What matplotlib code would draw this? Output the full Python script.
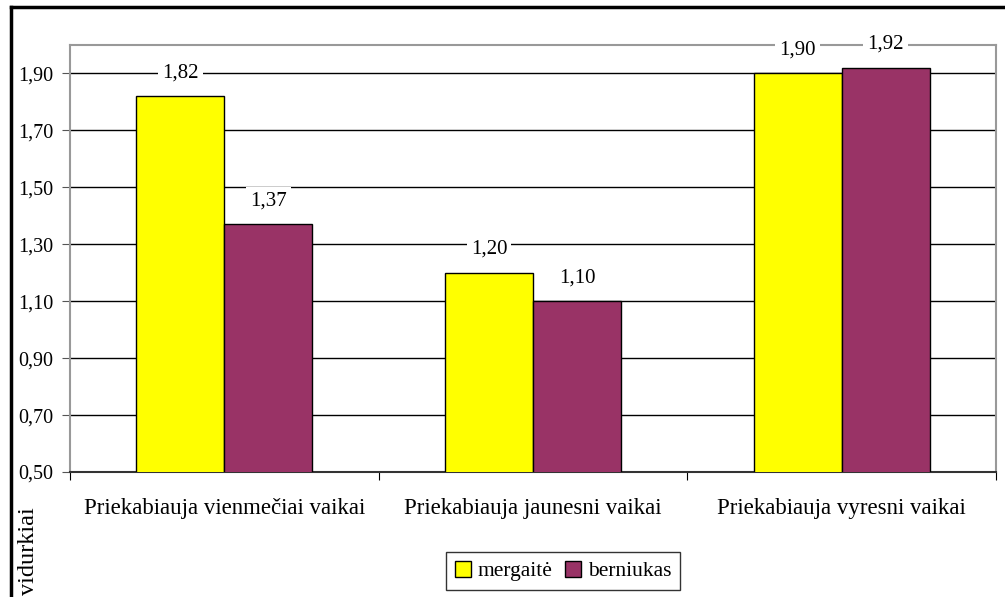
import numpy as np
import matplotlib
matplotlib.use("Agg")
import matplotlib.pyplot as plt
from matplotlib.lines import Line2D

plt.rcParams['font.family'] = ['Liberation Serif', 'DejaVu Serif']

# data
categories = ["Priekabiauja vienmečiai vaikai", "Priekabiauja jaunesni vaikai",
              "Priekabiauja vyresni vaikai"]
mergaite = [1.82, 1.20, 1.90]
berniukas = [1.37, 1.10, 1.92]
series_names = ["mergaitė", "berniukas"]
yticks = [0.5, 0.7, 0.9, 1.1, 1.3, 1.5, 1.7, 1.9]

W, H = 1005, 597
fig = plt.figure(figsize=(W / 100, H / 100), dpi=100)
ax = fig.add_axes([70 / W, (H - 472) / H, 926 / W, 427 / H])

x = np.arange(len(categories))
bw = 0.285
b1 = ax.bar(x - bw / 2, mergaite, bw, color="#FFFF00", edgecolor="black",
            linewidth=1, label=series_names[0], zorder=3)
b2 = ax.bar(x + bw / 2, berniukas, bw, color="#993366", edgecolor="black",
            linewidth=1, label=series_names[1], zorder=3)

ax.set_ylim(0.5, 2.0)
ax.set_xlim(-0.5, 2.5)
ax.set_yticks(yticks)
ax.set_yticklabels([f"{v:.2f}".replace(".", ",") for v in yticks], fontsize=14.5)
ax.yaxis.grid(True, color="black", linewidth=1, zorder=0)
ax.set_axisbelow(True)

# category ticks at boundaries, labels centred
ax.set_xticks([-0.5, 0.5, 1.5, 2.5])
ax.set_xticklabels([])
ax.set_xticks(x, minor=True)
ax.set_xticklabels(categories, minor=True, fontsize=16.5)
ax.tick_params(axis="x", which="minor", length=0, pad=19)
ax.tick_params(axis="x", which="major", length=6, color="black", direction="out")
ax.tick_params(axis="y", length=6, color="#555555", direction="out", pad=6)

for s in ["top", "right", "left"]:
    ax.spines[s].set_color("#999999")
    ax.spines[s].set_linewidth(1.5)
ax.spines["bottom"].set_color("#333333")
ax.spines["bottom"].set_linewidth(1.5)

# value labels
for bars, vals in [(b1, mergaite), (b2, berniukas)]:
    for rect, v in zip(bars, vals):
        ax.annotate(f"{v:.2f}".replace(".", ","),
                    (rect.get_x() + rect.get_width() / 2, v),
                    xytext=(0, 17), textcoords="offset points",
                    ha="center", va="center", fontsize=15, zorder=4,
                    bbox=dict(facecolor="white", edgecolor="none", pad=3))

leg = fig.legend(handles=[b1, b2], labels=series_names, loc="center",
                 bbox_to_anchor=(563 / W, (H - 571) / H), ncol=2, fontsize=15.5,
                 frameon=True, fancybox=False, handlelength=0.75, handleheight=0.75,
                 handletextpad=0.3, columnspacing=0.6, borderpad=0.4)
leg.get_frame().set_edgecolor("black")
leg.get_frame().set_linewidth(1)

fig.text(29 / W, 2 / H, "vidurkiai", rotation=90, ha="center", va="bottom",
         fontsize=17.5)

# outer frame (cut off at right/bottom)
fig.add_artist(Line2D([11 / W, 1], [1 - 7 / H, 1 - 7 / H], color="black", lw=2.5,
                      transform=fig.transFigure))
fig.add_artist(Line2D([11 / W, 11 / W], [0, 1 - 7 / H], color="black", lw=2.5,
                      transform=fig.transFigure))

fig.savefig("out.png", dpi=100)
